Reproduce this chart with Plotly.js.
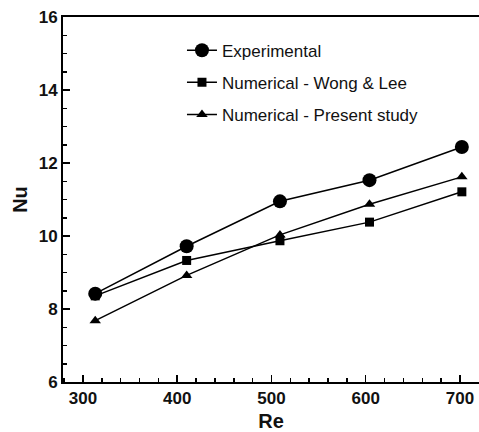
<!DOCTYPE html>
<html><head><meta charset="utf-8">
<script src="https://cdn.plot.ly/plotly-3.0.1.min.js"></script>
<style>html,body{margin:0;padding:0;background:#fff;overflow:hidden;}#chart{width:479px;height:432px;}</style>
</head><body><div id="chart"></div>
<script>
const re = [313, 410, 509, 604, 702];
const seriesNames = ["Experimental", "Numerical - Wong & Lee", "Numerical - Present study"];
const nuExperimental = [8.42, 9.72, 10.95, 11.53, 12.44];
const nuWongLee = [8.36, 9.33, 9.87, 10.38, 11.21];
const nuPresent = [7.68, 8.92, 10.03, 10.87, 11.62];
const xTicks = [300, 400, 500, 600, 700];
const yTicks = [6, 8, 10, 12, 14, 16];

const font = "Liberation Sans, Arial, sans-serif";
const symbols = ["circle", "square", "triangle-up"];
const sizes = [14, 9, 10];
const ys = [nuExperimental, nuWongLee, nuPresent];

const traces = ys.map((y, i) => ({
  x: re, y: y, name: seriesNames[i], type: "scatter", mode: "lines+markers",
  legendgroup: "g" + i,
  line: {color: "#000", width: 1.5},
  marker: {symbol: symbols[i], size: sizes[i], color: "#000"}
}));

const layout = {
  width: 479, height: 432,
  margin: {l: 63, r: 0, t: 17, b: 50},
  paper_bgcolor: "#fff", plot_bgcolor: "#fff",
  showlegend: true,
  legend: {x: 0.286, y: 0.957, xanchor: "left", yanchor: "top",
           font: {family: font, size: 17, color: "#111"},
           bgcolor: "rgba(0,0,0,0)", traceorder: "grouped", tracegroupgap: 7},
  xaxis: {range: [278.8, 720.2], tickvals: xTicks, ticks: "inside", ticklen: 7, tickwidth: 1.5,
          tickcolor: "#000", showline: true, linecolor: "#000", linewidth: 2, mirror: true,
          showgrid: false, zeroline: false,
          minor: {dtick: 20, ticks: "inside", ticklen: 4, tickcolor: "#000", showgrid: false},
          tickfont: {family: font, size: 17, color: "#111", weight: "bold"},
          title: {text: "<b>Re</b>", font: {family: font, size: 20, color: "#111"}, standoff: 8}},
  yaxis: {range: [6, 16], tickvals: yTicks, ticks: "inside", ticklen: 7, tickwidth: 1.5,
          tickcolor: "#000", showline: true, linecolor: "#000", linewidth: 2, mirror: false,
          showgrid: false, zeroline: false,
          minor: {dtick: 0.5, ticks: "inside", ticklen: 4, tickcolor: "#000", showgrid: false},
          tickfont: {family: font, size: 17, color: "#111", weight: "bold"},
          title: {text: "<b>Nu</b>", font: {family: font, size: 20, color: "#111"}, standoff: 6}}
};

Plotly.newPlot("chart", traces, layout, {displayModeBar: false, staticPlot: true});
</script></body></html>
